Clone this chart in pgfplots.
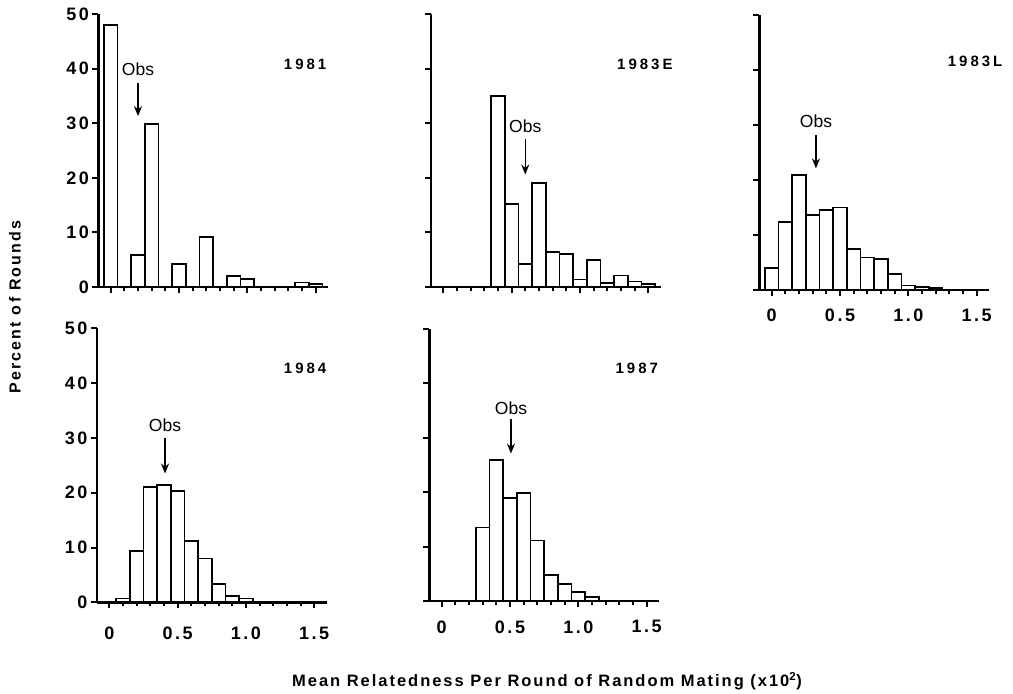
\documentclass[border=0pt]{standalone}
\usepackage{fontspec}
\setmainfont{Liberation Sans}
\newfontfamily\wide[LetterSpace=14]{Liberation Sans}
\newfontfamily\wider[LetterSpace=20]{Liberation Sans}
\newfontfamily\titlefont[LetterSpace=12]{Liberation Sans}
\usepackage{pgfplots}
\pgfplotsset{compat=1.18}
\usetikzlibrary{arrows.meta}

\pgfplotsset{
  hist/.style={
    scale only axis, anchor=south west,
    width=229.5pt, height=273pt,
    xmin=-0.09, xmax=1.59, ymin=0, ymax=50,
    axis x line=bottom, axis y line=left,
    axis line style={-, line width=2.6pt},
    xtick={0,0.5,1,1.5}, minor x tick num=4,
    ytick={0,10,20,30,40,50},
    xticklabels={0,0.5,1.0,1.5},
    tick align=outside, major tick length=6pt, minor tick length=4pt,
    tick style={line width=2pt, black},
    /pgf/number format/assume math mode=true,
    ticklabel style={font=\wide\bfseries\fontsize{18}{18}\selectfont},
    ybar, bar width=0.1,
    clip=false,
  },
  notx/.style={xticklabels={}},
  noty/.style={yticklabels={}},
  bars/.style={fill=white, draw=black, line width=1.7pt},
}
\newcommand{\obs}[4]{%
  \node[font=\fontsize{17.5}{17.5}\selectfont] at (axis cs:#1,#2) {Obs};
  \draw[-{Stealth[length=10pt,width=8pt]}, line width=1.5pt] (axis cs:#1,#3) -- (axis cs:#1,#4);}
\newcommand{\yr}[3]{%
  \node[anchor=east, inner sep=0pt, font=\wider\bfseries\fontsize{15}{15}\selectfont] at (axis cs:#1,#2) {#3};}

\begin{document}
\begin{tikzpicture}
\useasboundingbox (0pt,0pt) rectangle (1013pt,-694pt);

% 1981
\begin{axis}[hist, notx, at={(98.4pt,-287pt)}]
\addplot[bars] coordinates {(0,48.0) (0.2,5.8) (0.3,29.9) (0.5,4.2) (0.7,9.1) (0.9,2.0) (1.0,1.5) (1.4,0.8) (1.5,0.5)};
\obs{0.2}{39.9}{37.4}{31.3}
\yr{1.58}{40.8}{1981}
\end{axis}

% 1983E
\begin{axis}[hist, notx, noty, at={(431pt,-287pt)}]
\addplot[bars] coordinates {(0.4,35.0) (0.5,15.2) (0.6,4.2) (0.7,19.0) (0.8,6.4) (0.9,6.0) (1.0,1.4) (1.1,5.0) (1.2,0.7) (1.3,2.1) (1.4,1.0) (1.5,0.6)};
\obs{0.6}{29.4}{27.1}{20.6}
\yr{1.68}{40.8}{1983E}
\end{axis}

% 1983L
\begin{axis}[hist, noty, height=275pt, at={(759.4pt,-290pt)},
  xticklabel style={yshift=-9.5pt}]
\addplot[bars] coordinates {(0,4.0) (0.1,12.4) (0.2,20.9) (0.3,13.6) (0.4,14.5) (0.5,15.0) (0.6,7.4) (0.7,5.9) (0.8,5.6) (0.9,2.9) (1.0,0.8) (1.1,0.6) (1.2,0.4)};
\obs{0.324}{30.6}{28.2}{22.1}
\yr{1.69}{41.5}{1983L}
\end{axis}

% 1984
\begin{axis}[hist, height=274pt, at={(97pt,-602.3pt)},
  xticklabel style={yshift=-15pt}]
\addplot[bars] coordinates {(0.1,0.7) (0.2,9.4) (0.3,21.1) (0.4,21.4) (0.5,20.3) (0.6,11.2) (0.7,8.0) (0.8,3.3) (0.9,1.2) (1.0,0.7)};
\obs{0.408}{32.4}{29.9}{23.5}
\yr{1.59}{42.7}{1984}
\end{axis}

% 1987
\begin{axis}[hist, noty, height=272pt, at={(429.4pt,-601pt)},
  xticklabel style={yshift=-10pt}]
\addplot[bars] coordinates {(0.3,13.5) (0.4,25.9) (0.5,18.9) (0.6,19.8) (0.7,11.1) (0.8,4.8) (0.9,3.1) (1.0,1.7) (1.1,0.7)};
\obs{0.507}{35.4}{33.4}{27.1}
\yr{1.585}{42.8}{1987}
\end{axis}

\node[rotate=90, font=\wide\bfseries\fontsize{16}{16}\selectfont] at (15pt,-307pt) {Percent of Rounds};
\node[font=\titlefont\bfseries\fontsize{16.5}{16.5}\selectfont] at (547pt,-681pt) {Mean Relatedness Per Round of Random Mating (x10\textsuperscript{2})};
\end{tikzpicture}
\end{document}
